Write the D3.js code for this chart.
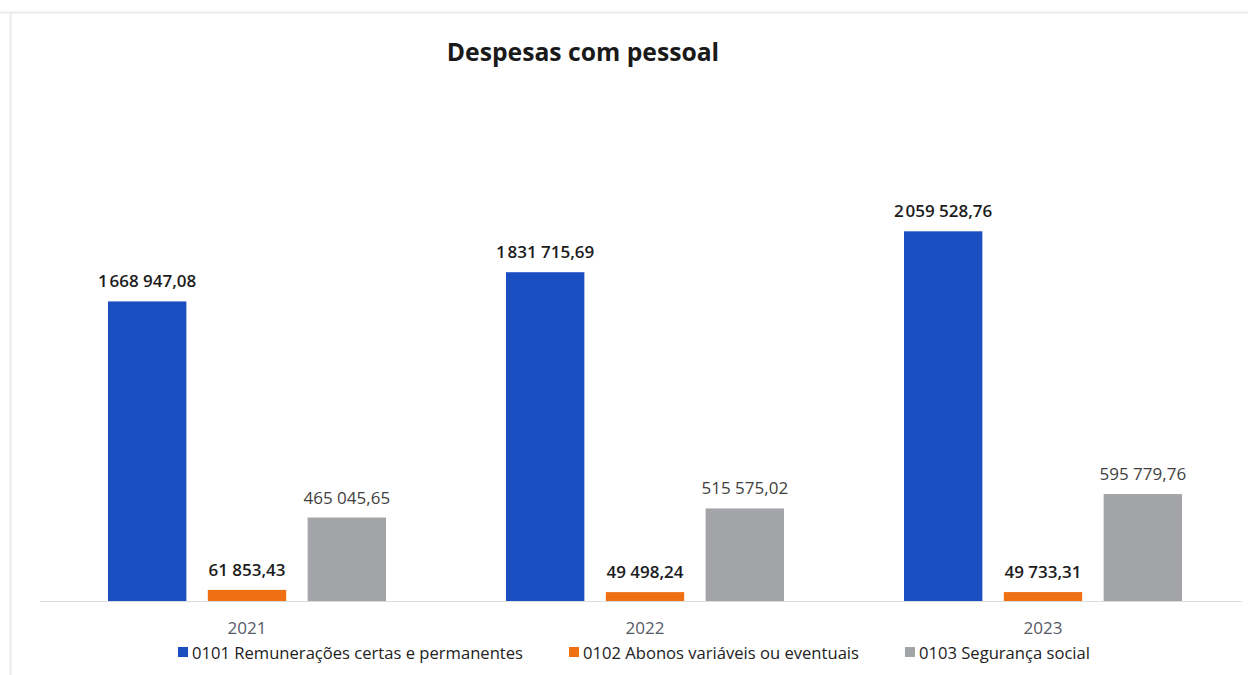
<!DOCTYPE html>
<html>
<head>
<meta charset="utf-8">
<script src="https://cdn.jsdelivr.net/npm/d3@7"></script>
<style>
  html, body { margin: 0; padding: 0; background: #ffffff; }
  svg { display: block; }
  text { font-family: "Open Sans", "DejaVu Sans", sans-serif; }
</style>
</head>
<body>
<svg id="chart" width="1248" height="675"></svg>
<script>
// Despesas com pessoal, por ano e por rubrica
const years = ["2021", "2022", "2023"];
const seriesNames = [
  "0101 Remunerações certas e permanentes",
  "0102 Abonos variáveis ou eventuais",
  "0103 Segurança social"
];
const remuneracoes = [1668947.08, 1831715.69, 2059528.76];
const abonos = [61853.43, 49498.24, 49733.31];
const segurancaSocial = [465045.65, 515575.02, 595779.76];
const seriesValues = [remuneracoes, abonos, segurancaSocial];
const colors = ["#1b4fc1", "#ee7013", "#a3a4a7"];
const labelColors = ["#1c1c1c", "#1c1c1c", "#3f3f3f"];
const labelWeights = [600, 600, 400];

const svg = d3.select("#chart");
const W = 1248, H = 675;

// page frame
svg.append("line").attr("x1", 0).attr("x2", W).attr("y1", 12.5).attr("y2", 12.5)
  .attr("stroke", "#ececec").attr("stroke-width", 2);
svg.append("line").attr("x1", 10.5).attr("x2", 10.5).attr("y1", 12).attr("y2", H)
  .attr("stroke", "#ececec").attr("stroke-width", 2);

// title
svg.append("text")
  .attr("x", 583).attr("y", 61)
  .attr("text-anchor", "middle")
  .attr("font-size", 24.7).attr("font-weight", 700)
  .attr("fill", "#1a1a1a")
  .text("Despesas com pessoal");

// scales
const baseline = 601;
const y = d3.scaleLinear().domain([0, 2500000]).range([baseline, baseline - 448.75]);
const x0 = d3.scaleBand().domain(years).range([48, 1242]).padding(0);
const x1 = d3.scaleBand().domain(d3.range(seriesNames.length))
  .range([60, x0.bandwidth() - 60]).paddingInner(0.215).paddingOuter(0);

// category axis line
svg.append("line")
  .attr("x1", 40).attr("x2", 1242)
  .attr("y1", baseline + 0.5).attr("y2", baseline + 0.5)
  .attr("stroke", "#dcdcdc").attr("stroke-width", 1);

// value labels: space-separated thousands, comma decimals
function fmt(v) {
  const [ip, dp] = v.toFixed(2).split(".");
  const groups = [];
  for (let i = ip.length; i > 0; i -= 3) groups.unshift(ip.slice(Math.max(0, i - 3), i));
  let s = groups[0];
  for (let g = 1; g < groups.length; g++) {
    s += (g === 1 && groups.length === 3 ? "\u200A" : " ") + groups[g];
  }
  return s + "," + dp;
}

const data = years.flatMap((yr, i) =>
  seriesValues.map((vals, s) => ({ year: yr, s, value: vals[i] })));

const g = svg.append("g");
g.selectAll("rect").data(data).enter().append("rect")
  .attr("x", d => x0(d.year) + x1(d.s))
  .attr("y", d => y(d.value))
  .attr("width", x1.bandwidth())
  .attr("height", d => baseline - y(d.value))
  .attr("fill", d => colors[d.s]);

g.selectAll("text.val").data(data).enter().append("text")
  .attr("class", "val")
  .attr("x", d => x0(d.year) + x1(d.s) + x1.bandwidth() / 2)
  .attr("y", d => y(d.value) - 14)
  .attr("text-anchor", "middle")
  .attr("font-size", 17)
  .attr("font-weight", d => labelWeights[d.s])
  .attr("fill", d => labelColors[d.s])
  .text(d => fmt(d.value));

// year labels
svg.selectAll("text.year").data(years).enter().append("text")
  .attr("class", "year")
  .attr("x", d => x0(d) + x0.bandwidth() / 2)
  .attr("y", 634)
  .attr("text-anchor", "middle")
  .attr("font-size", 17)
  .attr("fill", "#555a66")
  .text(d => d);

// legend
const legend = svg.append("g");
let lx = 178;
seriesNames.forEach((name, s) => {
  legend.append("rect")
    .attr("x", lx).attr("y", 647).attr("width", 10).attr("height", 10)
    .attr("fill", colors[s]);
  const t = legend.append("text")
    .attr("x", lx + 14).attr("y", 659)
    .attr("font-size", 16.6)
    .attr("fill", "#222222")
    .text(name);
  lx += 14 + t.node().getComputedTextLength() + 46;
});
</script>
</body>
</html>
